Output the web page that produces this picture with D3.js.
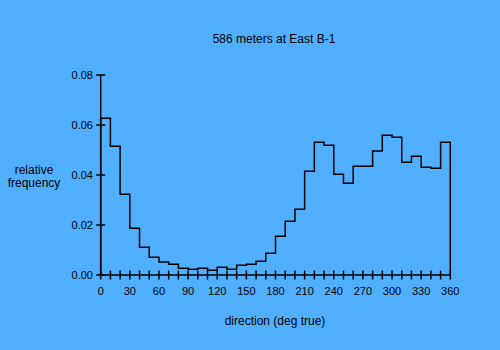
<!DOCTYPE html>
<html><head><meta charset="utf-8">
<script src="https://cdn.jsdelivr.net/npm/d3@7"></script>
<style>
html,body{margin:0;padding:0;background:#50b0ff;}
svg{display:block;font-family:"Liberation Sans",Arial,sans-serif;}
</style></head>
<body>
<svg id="c" width="500" height="350"></svg>
<script>
const title = "586 meters at East B-1";
const xLabel = "direction (deg true)";
const yLabelLines = ["relative", "frequency"];
const binEdges = d3.range(0, 361, 10);
const frequencies = [
  0.0627, 0.0515, 0.0323, 0.0187, 0.0111, 0.0071, 0.0052, 0.0043, 0.0027, 0.0023,
  0.0027, 0.0019, 0.0031, 0.0023, 0.0039, 0.0043, 0.0055, 0.0087, 0.0155, 0.0215,
  0.0263, 0.0415, 0.0531, 0.0519, 0.0403, 0.0367, 0.0435, 0.0435, 0.0496, 0.0559,
  0.0551, 0.0451, 0.0475, 0.0431, 0.0427, 0.0531
];
const xTickLabels = [0, 30, 60, 90, 120, 150, 180, 210, 240, 270, 300, 330, 360];
const yTickValues = [0, 0.02, 0.04, 0.06, 0.08];

const svg = d3.select("#c");
const x = d3.scaleLinear().domain([0, 360]).range([100.7, 450.3]);
const y = d3.scaleLinear().domain([0, 0.08]).range([275, 75]);

svg.append("rect").attr("width", 500).attr("height", 350).attr("fill", "#50b0ff");

const g = svg.append("g").attr("stroke", "#000").attr("stroke-width", 1.5).attr("fill", "none");
g.append("line").attr("x1", x(0)).attr("x2", x(360)).attr("y1", y(0)).attr("y2", y(0));
g.append("line").attr("x1", x(0)).attr("x2", x(0)).attr("y1", y(0)).attr("y2", y(0.08));
binEdges.forEach(v => {
  g.append("line").attr("x1", x(v)).attr("x2", x(v)).attr("y1", y(0) - 4.5).attr("y2", y(0) + 4.5);
});
yTickValues.forEach(v => {
  g.append("line").attr("x1", x(0) - 4.5).attr("x2", x(0) + 4.5).attr("y1", y(v)).attr("y2", y(v));
});

let pts = [[x(0), y(0)]];
frequencies.forEach((f, i) => {
  pts.push([x(binEdges[i]), y(f)]);
  pts.push([x(binEdges[i + 1]), y(f)]);
});
pts.push([x(360), y(0)]);
g.append("path").attr("d", d3.line()(pts)).attr("stroke-linejoin", "miter");

svg.append("g").selectAll("text").data(xTickLabels).join("text")
  .attr("x", d => x(d)).attr("y", 295).attr("text-anchor", "middle")
  .attr("font-size", 11).attr("fill", "#000").text(d => d);
svg.append("g").selectAll("text").data(yTickValues).join("text")
  .attr("x", 93).attr("y", d => y(d) + 4).attr("text-anchor", "end")
  .attr("font-size", 11).attr("fill", "#000").text(d => d.toFixed(2));

svg.append("text").attr("x", 274).attr("y", 43).attr("text-anchor", "middle")
  .attr("font-size", 12).attr("fill", "#000").text(title);
svg.append("text").attr("x", 275).attr("y", 325).attr("text-anchor", "middle")
  .attr("font-size", 12).attr("fill", "#000").text(xLabel);
svg.append("g").selectAll("text").data(yLabelLines).join("text")
  .attr("x", 34).attr("y", (d, i) => 174 + i * 12.5).attr("text-anchor", "middle")
  .attr("font-size", 12).attr("fill", "#000").text(d => d);
</script>
</body></html>
